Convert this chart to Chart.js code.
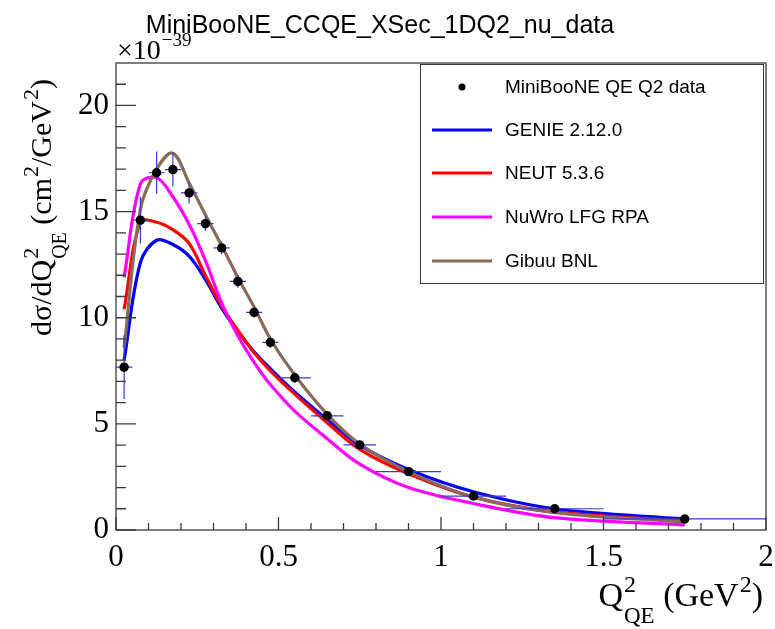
<!DOCTYPE html>
<html><head><meta charset="utf-8">
<script src="https://cdn.jsdelivr.net/npm/chart.js@4/dist/chart.umd.min.js"></script>
<style>html,body{margin:0;padding:0;background:#fff}#wrap{width:775px;height:629px;position:relative}</style>
</head><body><div id="wrap"><canvas id="c" width="775" height="629"></canvas></div>
<script>
// ---------- data ----------
const titleText = "MiniBooNE_CCQE_XSec_1DQ2_nu_data";
const q2Centers = [0.025,0.075,0.125,0.175,0.225,0.275,0.325,0.375,0.425,0.475,0.55,0.65,0.75,0.9,1.1,1.35,1.75];
const q2HalfWidths = [0.025,0.025,0.025,0.025,0.025,0.025,0.025,0.025,0.025,0.025,0.05,0.05,0.05,0.1,0.1,0.15,0.25];
const dataValues = [7.67,14.6,16.83,16.98,15.88,14.43,13.29,11.71,10.25,8.84,7.17,5.38,4.01,2.75,1.60,1.0,0.52];
const dataErrors = [1.5,1.1,1.0,0.8,0.5,0.35,0.3,0.3,0.25,0.25,0.25,0.2,0.2,0.15,0.12,0.1,0.08];
const genieValues = [8.0,12.6,13.65,13.45,12.9,11.8,10.45,9.35,8.4,7.6,6.5,5.2,4.0,2.85,1.8,1.0,0.52];
const neutValues  = [10.4,14.5,14.5,14.15,13.5,12.0,10.55,9.4,8.35,7.5,6.4,5.05,3.8,2.65,1.55,0.85,0.42];
const nuwroValues = [11.9,16.3,16.6,15.7,14.4,12.7,10.7,9.15,7.9,6.85,5.6,4.3,3.1,2.0,1.25,0.58,0.24];
const gibuuValues = [8.6,15.1,17.0,17.75,16.35,14.85,13.4,11.9,10.5,9.0,7.3,5.45,4.05,2.75,1.55,0.82,0.38];
const seriesLabels = ["MiniBooNE QE Q2 data","GENIE 2.12.0","NEUT 5.3.6","NuWro LFG RPA","Gibuu BNL"];
const xMajorTicks = [0,0.5,1,1.5,2];
const xTickLabels = ["0","0.5","1","1.5","2"];
const xMinorTicks = [0.1,0.2,0.3,0.4,0.6,0.7,0.8,0.9,1.1,1.2,1.3,1.4,1.6,1.7,1.8,1.9];
const yMajorTicks = [0,5,10,15,20];
const yTickLabels = ["0","5","10","15","20"];
const yMinorTicks = [1,2,3,4,6,7,8,9,11,12,13,14,16,17,18,19,21];

const pts = arr => arr.map((v,i)=>({x:q2Centers[i], y:v}));
const SERIF = "'Liberation Serif','Times New Roman',serif";
const SANS = "'Liberation Sans',Arial,sans-serif";
const FRAME = '#3a3a3a';

function richWidth(ctx, parts, F){
  let w=0;
  for(const p of parts){
    if(p.t!==undefined){ctx.font=F+'px '+SERIF; w+=ctx.measureText(p.t).width;}
    else{
      let ws=0, wb=0;
      if(p.sup){ctx.font=Math.round(F*0.72)+'px '+SERIF; ws=ctx.measureText(p.sup).width;}
      if(p.sub){ctx.font=Math.round(F*0.68)+'px '+SERIF; wb=ctx.measureText(p.sub).width;}
      w+=Math.max(ws,wb)+1;
    }
  }
  return w;
}
function drawRich(ctx, parts, x, y, F){
  ctx.textBaseline='alphabetic'; ctx.textAlign='left';
  for(const p of parts){
    if(p.t!==undefined){ctx.font=F+'px '+SERIF; ctx.fillText(p.t,x,y); x+=ctx.measureText(p.t).width;}
    else{
      let ws=0, wb=0;
      if(p.sup){ctx.font=Math.round(F*0.72)+'px '+SERIF; ctx.fillText(p.sup,x+1,y-F*0.42); ws=ctx.measureText(p.sup).width;}
      if(p.sub){ctx.font=Math.round(F*0.68)+'px '+SERIF; ctx.fillText(p.sub,x+1,y+F*0.5); wb=ctx.measureText(p.sub).width;}
      x+=Math.max(ws,wb)+1;
    }
  }
}

const rootPlugin = {
  id:'rootStyle',
  beforeDatasetDraw(chart,args){
    if(args.index!==0) return;
    const ctx=chart.ctx, xs=chart.scales.x, ys=chart.scales.y;
    ctx.save();
    ctx.strokeStyle='#3b3bd0'; ctx.lineWidth=1.2;
    ctx.beginPath();
    q2Centers.forEach((c,i)=>{
      const px=xs.getPixelForValue(c), py=ys.getPixelForValue(dataValues[i]);
      const x1=xs.getPixelForValue(c-q2HalfWidths[i]), x2=xs.getPixelForValue(c+q2HalfWidths[i]);
      const y1=ys.getPixelForValue(dataValues[i]+dataErrors[i]), y2=ys.getPixelForValue(dataValues[i]-dataErrors[i]);
      ctx.moveTo(x1,py); ctx.lineTo(x2,py);
      ctx.moveTo(px,y1); ctx.lineTo(px,y2);
    });
    ctx.stroke();
    ctx.restore();
  },
  afterDraw(chart){
    const ctx=chart.ctx, a=chart.chartArea, xs=chart.scales.x, ys=chart.scales.y;
    ctx.save();
    // frame
    ctx.strokeStyle=FRAME; ctx.lineWidth=1.3;
    ctx.strokeRect(a.left,a.top,a.right-a.left,a.bottom-a.top);
    // ticks
    ctx.beginPath();
    xMajorTicks.forEach(v=>{const p=xs.getPixelForValue(v); ctx.moveTo(p,a.bottom); ctx.lineTo(p,a.bottom-13);});
    xMinorTicks.forEach(v=>{const p=xs.getPixelForValue(v); ctx.moveTo(p,a.bottom); ctx.lineTo(p,a.bottom-7);});
    yMajorTicks.forEach(v=>{const p=ys.getPixelForValue(v); ctx.moveTo(a.left,p); ctx.lineTo(a.left+20,p);});
    yMinorTicks.forEach(v=>{const p=ys.getPixelForValue(v); ctx.moveTo(a.left,p); ctx.lineTo(a.left+10,p);});
    ctx.stroke();
    // title
    ctx.fillStyle='#000';
    ctx.font='25px '+SANS; ctx.textAlign='center'; ctx.textBaseline='alphabetic';
    ctx.fillText(titleText,380,33);
    // x10^-39
    ctx.textAlign='left';
    ctx.font='28px '+SERIF; ctx.fillText('\u00d710',a.left+1,59);
    const w10=ctx.measureText('\u00d710').width;
    ctx.font='19px '+SERIF; ctx.fillText('\u221239',a.left+1+w10+1,46);
    // x title
    const F=34;
    const xParts=[{t:'Q'},{sup:'2',sub:'QE'},{t:' (GeV'},{sup:'2'},{t:')'}];
    const xw=richWidth(ctx,xParts,F);
    drawRich(ctx,xParts,763-xw,606,F);
    // y title
    const FY=30;
    const yParts=[{t:'d\u03c3/dQ'},{sup:'2',sub:'QE'},{t:' (cm'},{sup:'2'},{t:'/GeV'},{sup:'2'},{t:')'}];
    ctx.save(); ctx.translate(51,336); ctx.rotate(-Math.PI/2);
    drawRich(ctx,yParts,0,0,FY);
    ctx.restore();
    // legend
    const L={x:420,y:64,w:343,h:219};
    ctx.fillStyle='#fff'; ctx.fillRect(L.x,L.y,L.w,L.h);
    ctx.strokeStyle=FRAME; ctx.lineWidth=1; ctx.strokeRect(L.x+0.5,L.y+0.5,L.w,L.h);
    const rows=[87,130,173,217,261];
    chart.data.datasets.forEach((ds,i)=>{
      const yy=rows[i];
      if(i===0){ctx.fillStyle='#000'; ctx.beginPath(); ctx.arc(462,yy,3.5,0,Math.PI*2); ctx.fill();}
      else{ctx.strokeStyle=ds.borderColor; ctx.lineWidth=3; ctx.beginPath(); ctx.moveTo(432,yy); ctx.lineTo(492,yy); ctx.stroke();}
      ctx.fillStyle='#000'; ctx.font='19px '+SANS; ctx.textAlign='left'; ctx.textBaseline='middle';
      ctx.fillText(ds.label,505,yy+1);
    });
    ctx.restore();
  }
};

const lineDs=(label,vals,color,order)=>({label,data:pts(vals),showLine:true,borderColor:color,backgroundColor:color,borderWidth:3.2,pointRadius:0,tension:0.35,order});

new Chart(document.getElementById('c').getContext('2d'),{
  type:'scatter',
  data:{datasets:[
    {label:seriesLabels[0],data:pts(dataValues),showLine:false,pointRadius:4.7,backgroundColor:'#000',borderColor:'#000',borderWidth:0,order:0},
    lineDs(seriesLabels[1],genieValues,'#0000ff',4),
    lineDs(seriesLabels[2],neutValues,'#ff0000',3),
    lineDs(seriesLabels[3],nuwroValues,'#ff00ff',2),
    lineDs(seriesLabels[4],gibuuValues,'#8a6b5a',1)
  ]},
  options:{
    responsive:false, animation:false, devicePixelRatio:1,
    layout:{padding:{left:0,right:9,top:63,bottom:0}},
    plugins:{legend:{display:false},tooltip:{enabled:false},title:{display:false}},
    scales:{
      x:{type:'linear',min:0,max:2,
        afterBuildTicks:s=>{s.ticks=xMajorTicks.map(v=>({value:v}));},
        afterFit:s=>{s.height=99; s.paddingLeft=0; s.paddingRight=0;},
        grid:{display:false,drawTicks:false}, border:{display:false},
        ticks:{autoSkip:false,maxRotation:0,padding:9,color:'#000',font:{family:SERIF,size:31},
          callback:(v)=>xTickLabels[xMajorTicks.indexOf(v)]}},
      y:{type:'linear',min:0,max:22,
        afterBuildTicks:s=>{s.ticks=yMajorTicks.map(v=>({value:v}));},
        afterFit:s=>{s.width=116; s.paddingTop=0; s.paddingBottom=0;},
        grid:{display:false,drawTicks:false}, border:{display:false},
        ticks:{autoSkip:false,padding:7,color:'#000',font:{family:SERIF,size:31},
          callback:(v)=>yTickLabels[yMajorTicks.indexOf(v)]}}
    }
  },
  plugins:[rootPlugin]
});
</script></body></html>
